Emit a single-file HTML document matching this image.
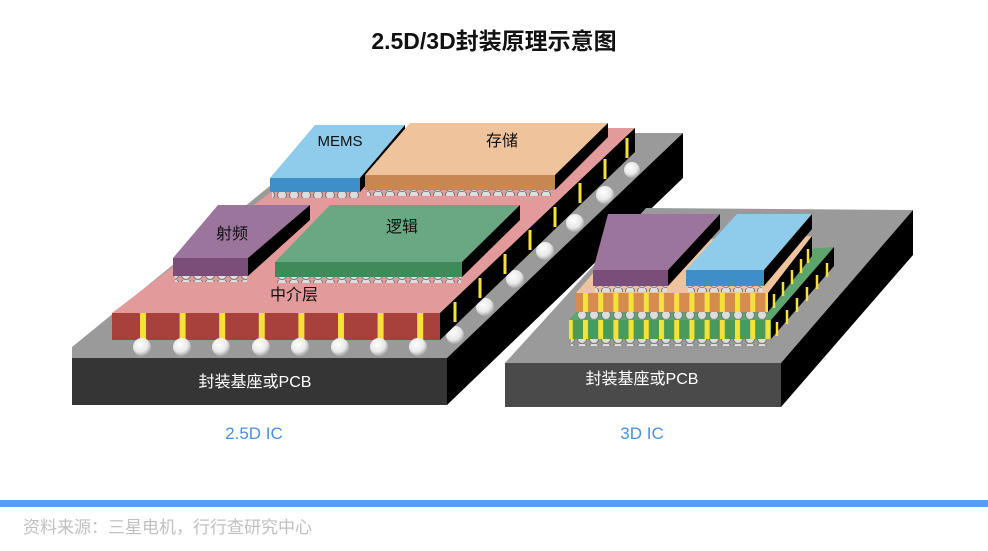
<!DOCTYPE html>
<html><head><meta charset="utf-8"><style>
body{margin:0;background:#fff;width:988px;height:546px;overflow:hidden;font-family:"Liberation Sans","Noto Sans CJK SC",sans-serif}
</style></head><body>
<svg width="988" height="546" viewBox="0 0 988 546" xmlns="http://www.w3.org/2000/svg" font-family="Liberation Sans, Noto Sans CJK SC, sans-serif">
<defs>
<radialGradient id="ball" cx="0.4" cy="0.35" r="0.7"><stop offset="0" stop-color="#fff"/><stop offset="0.6" stop-color="#e8e8e8"/><stop offset="1" stop-color="#999"/></radialGradient>
<pattern id="bump" x="0" y="0" width="12" height="8" patternUnits="userSpaceOnUse"><circle cx="6" cy="3" r="4.5" fill="#ddd" stroke="#777" stroke-width="1"/></pattern>
<pattern id="pilR" x="140" y="0" width="39.6" height="40" patternUnits="userSpaceOnUse"><rect x="0" y="0" width="6" height="40" fill="#f4e23a"/></pattern>
<pattern id="pil3" x="583" y="0" width="15.2" height="40" patternUnits="userSpaceOnUse"><rect x="0" y="0" width="5" height="40" fill="#f4e23a"/></pattern>
</defs>
<text x="494" y="49" text-anchor="middle" font-size="23" font-weight="bold" fill="#111">2.5D/3D封装原理示意图</text>

<!-- LEFT substrate -->
<polygon points="72,347 335,133 683,133 447,358 72,358" fill="#9a9a9a"/>
<rect x="72" y="358" width="375" height="47" fill="#353535"/>
<polygon points="447,358 683,133 683,178 447,405" fill="#000"/>
<text x="255" y="387" text-anchor="middle" font-size="16" fill="#fff">封装基座或PCB</text>

<!-- side balls of interposer -->
<g fill="url(#ball)">
<circle cx="455" cy="335" r="9"/><circle cx="485" cy="307" r="9"/><circle cx="515" cy="279" r="9"/><circle cx="545" cy="251" r="9"/><circle cx="575" cy="223" r="9"/><circle cx="605" cy="195" r="9"/><circle cx="632" cy="170" r="8"/>
</g>
<!-- interposer -->
<polygon points="112,313 355,128 635,128 440,313" fill="#e29a9a"/>
<rect x="112" y="313" width="328" height="27" fill="#a8403c"/>
<rect x="112" y="313" width="328" height="27" fill="url(#pilR)"/>
<polygon points="440,313 635,128 635,152 440,340" fill="#000"/>
<g stroke="#f4e23a" stroke-width="3">
<line x1="455" y1="302" x2="455" y2="322"/><line x1="480" y1="278" x2="480" y2="298"/><line x1="505" y1="254" x2="505" y2="274"/><line x1="530" y1="230" x2="530" y2="250"/><line x1="555" y1="207" x2="555" y2="227"/><line x1="580" y1="183" x2="580" y2="203"/><line x1="605" y1="159" x2="605" y2="179"/><line x1="627" y1="138" x2="627" y2="158"/>
</g>
<g fill="url(#ball)">
<circle cx="142" cy="347" r="9"/><circle cx="182" cy="347" r="9"/><circle cx="221" cy="347" r="9"/><circle cx="261" cy="347" r="9"/><circle cx="300" cy="347" r="9"/><circle cx="340" cy="347" r="9"/><circle cx="379" cy="347" r="9"/><circle cx="418" cy="347" r="9"/>
</g>
<text x="294" y="300" text-anchor="middle" font-size="16" fill="#111">中介层</text>

<!-- MEMS -->
<rect x="272" y="191" width="88" height="7" fill="url(#bump)"/>
<polygon points="270,178 315,125 405,125 360,178" fill="#8fcbea"/>
<rect x="270" y="178" width="90" height="14" fill="#3e8ec8"/>
<polygon points="360,178 405,125 405,140 360,192" fill="#000"/>
<text x="340" y="146" text-anchor="middle" font-size="15" fill="#111">MEMS</text>
<!-- storage -->
<rect x="367" y="189" width="186" height="7" fill="url(#bump)"/>
<polygon points="365,175 410,123 608,123 555,175" fill="#efc49c"/>
<rect x="365" y="175" width="190" height="15" fill="#c88652"/>
<polygon points="555,175 608,123 608,137 555,190" fill="#000"/>
<text x="502" y="146" text-anchor="middle" font-size="16" fill="#111">存储</text>
<!-- RF -->
<rect x="175" y="275" width="72" height="7" fill="url(#bump)"/>
<polygon points="173,258 218,205 310,205 248,258" fill="#9b759c"/>
<rect x="173" y="258" width="75" height="18" fill="#7a4e78"/>
<polygon points="248,258 310,205 310,220 248,276" fill="#000"/>
<text x="232" y="239" text-anchor="middle" font-size="16" fill="#111">射频</text>
<!-- logic -->
<rect x="277" y="276" width="184" height="7" fill="url(#bump)"/>
<polygon points="275,262 330,205 520,205 462,262" fill="#6aa883"/>
<rect x="275" y="262" width="187" height="15" fill="#3f8a58"/>
<polygon points="462,262 520,205 520,220 462,277" fill="#000"/>
<text x="402" y="232" text-anchor="middle" font-size="16" fill="#111">逻辑</text>

<!-- RIGHT substrate -->
<polygon points="505,363 646,208 913,210 781,363" fill="#9a9a9a"/>
<rect x="505" y="363" width="276" height="44" fill="#4a4a4a"/>
<polygon points="781,363 913,210 913,255 781,407" fill="#000"/>
<text x="642" y="384" text-anchor="middle" font-size="16" fill="#fff">封装基座或PCB</text>

<!-- green layer -->
<rect x="571" y="338" width="198" height="8" fill="url(#bump)"/>
<polygon points="569,320 620,262 834,247 771,320" fill="#5ea46f"/>
<rect x="569" y="320" width="202" height="19" fill="#4a9a5c"/>
<rect x="569" y="320" width="202" height="19" fill="url(#pil3)"/>
<polygon points="771,320 834,247 834,266 771,339" fill="#000"/>
<!-- orange layer -->
<rect x="578" y="311" width="188" height="8" fill="url(#bump)"/>
<polygon points="576,293 620,242 812,236 768,293" fill="#efc49c"/>
<rect x="576" y="293" width="192" height="19" fill="#d58c4e"/>
<rect x="576" y="293" width="192" height="19" fill="url(#pil3)"/>
<polygon points="768,293 812,236 812,256 768,312" fill="#000"/>
<g stroke="#f4e23a" stroke-width="2.5">
<line x1="777" y1="322" x2="777" y2="336"/><line x1="787" y1="310" x2="787" y2="324"/><line x1="797" y1="298" x2="797" y2="312"/><line x1="807" y1="287" x2="807" y2="301"/><line x1="817" y1="275" x2="817" y2="289"/><line x1="827" y1="263" x2="827" y2="277"/>
<line x1="774" y1="294" x2="774" y2="308"/><line x1="783" y1="282" x2="783" y2="296"/><line x1="792" y1="270" x2="792" y2="284"/><line x1="801" y1="259" x2="801" y2="273"/><line x1="808" y1="249" x2="808" y2="263"/>
</g>
<!-- purple chip -->
<rect x="595" y="285" width="72" height="7" fill="url(#bump)"/>
<polygon points="593,270 608,214 720,214 668,270" fill="#9b759c"/>
<rect x="593" y="270" width="75" height="16" fill="#7a4e78"/>
<polygon points="668,270 720,214 720,229 668,286" fill="#000"/>
<!-- blue chip -->
<rect x="688" y="285" width="74" height="7" fill="url(#bump)"/>
<polygon points="686,270 737,214 812,214 764,270" fill="#8fcbea"/>
<rect x="686" y="270" width="78" height="16" fill="#3e8ec8"/>
<polygon points="764,270 812,214 812,229 764,286" fill="#000"/>

<text x="254" y="439" text-anchor="middle" font-size="17" fill="#4a90e2">2.5D IC</text>
<text x="642" y="439" text-anchor="middle" font-size="17" fill="#4a90e2">3D IC</text>

<rect x="0" y="500" width="988" height="7" fill="#559ef0"/>
<text x="23" y="533" font-size="17" fill="#c0c0c0">资料来源：三星电机，行行查研究中心</text>
</svg>
</body></html>
